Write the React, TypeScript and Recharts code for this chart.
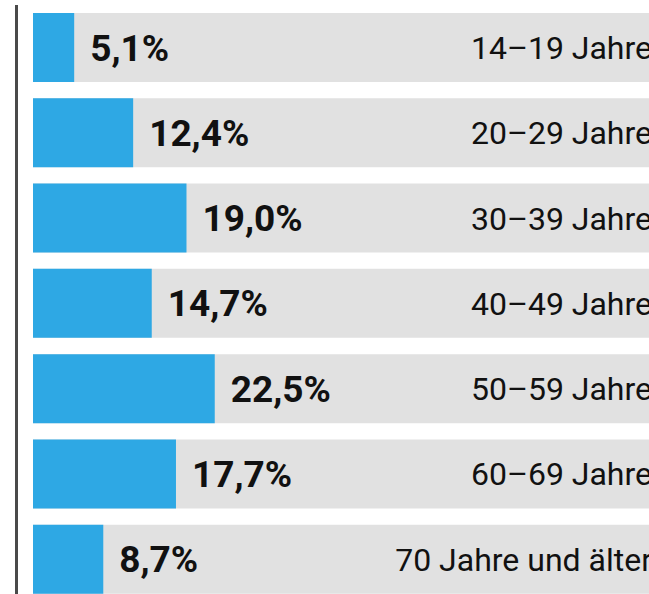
import React from 'react';
import { BarChart, Bar, XAxis, YAxis, LabelList } from 'recharts';

const categories = [
  '14–19 Jahre',
  '20–29 Jahre',
  '30–39 Jahre',
  '40–49 Jahre',
  '50–59 Jahre',
  '60–69 Jahre',
  '70 Jahre und älter',
];
const values = [5.1, 12.4, 19.0, 14.7, 22.5, 17.7, 8.7];

const data = categories.map((name, i) => ({ name, value: values[i] }));

const fmt = (v: any) => `${Number(v).toFixed(1).replace('.', ',')}%`;

export default function App() {
  return (
    <div
      style={{
        position: 'absolute',
        left: 0,
        top: 0,
        width: 649,
        height: 594,
        overflow: 'hidden',
        background: '#fff',
        fontFamily: 'Roboto, sans-serif',
      }}
    >
      <div
        style={{
          position: 'absolute',
          left: 15,
          top: 5,
          width: 3,
          height: 589,
          background: '#4a4a4a',
        }}
      />
      <BarChart
        layout="vertical"
        width={680}
        height={602}
        data={data}
        margin={{ top: 5, right: 25, left: 33, bottom: 0 }}
      >
        <XAxis type="number" hide domain={[0, 77]} />
        <YAxis
          type="category"
          dataKey="name"
          orientation="right"
          mirror
          width={400}
          axisLine={false}
          tickLine={false}
          tickSize={0}
          tickMargin={3}
          tick={{ fill: '#111', fontSize: 32, fontFamily: 'Roboto' }}
        />
        <Bar
          dataKey="value"
          fill="#2ea8e4"
          background={{ fill: '#e1e1e1' }}
          barSize={69}
          isAnimationActive={false}
        >
          <LabelList
            dataKey="value"
            position="right"
            offset={16}
            formatter={fmt}
            fill="#111"
            fontSize={37}
            fontWeight={700}
            fontFamily="Roboto"
          />
        </Bar>
      </BarChart>
    </div>
  );
}
